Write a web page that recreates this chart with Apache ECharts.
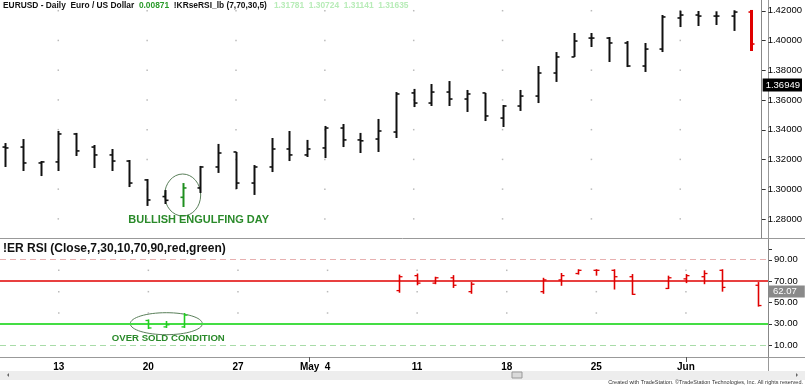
<!DOCTYPE html>
<html>
<head>
<meta charset="utf-8">
<script src="https://cdn.jsdelivr.net/npm/echarts@6/dist/echarts.min.js"></script>
<style>html,body{margin:0;padding:0;background:#fff}#c{width:805px;height:385px}</style>
</head>
<body>
<div id="c"></div>
<script>
// ---- data ----
const days = ['Apr 8','Apr 9','Apr 10','Apr 13','Apr 14','Apr 15','Apr 16','Apr 17','Apr 20','Apr 21','Apr 22','Apr 23','Apr 24',
  'Apr 27','Apr 28','Apr 29','Apr 30','May 1','May 4','May 5','May 6','May 7','May 8','May 11','May 12','May 13','May 14','May 15',
  'May 18','May 19','May 20','May 21','May 22','May 25','May 26','May 27','May 28','May 29','Jun 1','Jun 2','Jun 3','Jun 4','Jun 5'];
const openP  = [1.3283,1.3283,1.3176,1.3183,1.3371,1.3283,1.3230,1.3189,1.3062,1.2950,1.2945,1.3008,1.3149,1.3250,1.3041,1.3149,1.3270,1.3230,1.3277,1.3411,1.3331,1.3337,1.3384,1.3647,1.3579,1.3653,1.3606,1.3647,1.3478,1.3559,1.3626,1.3781,1.3889,1.4016,1.4016,1.3983,1.3828,1.3942,1.4151,1.4171,1.4164,1.4164,1.4191];
const highP  = [1.3310,1.3337,1.3189,1.3391,1.3378,1.3297,1.3270,1.3196,1.3068,1.2994,1.3041,1.3156,1.3304,1.3250,1.3162,1.3344,1.3391,1.3331,1.3425,1.3438,1.3378,1.3472,1.3653,1.3674,1.3707,1.3727,1.3667,1.3647,1.3566,1.3667,1.3828,1.3922,1.4050,1.4050,1.4023,1.3996,1.3983,1.4171,1.4200,1.4198,1.4196,1.4203,1.4205];
const lowP   = [1.3149,1.3122,1.3088,1.3122,1.3223,1.3142,1.3122,1.3014,1.2887,1.2900,1.2880,1.2974,1.3109,1.3001,1.2961,1.3115,1.3189,1.3216,1.3209,1.3283,1.3243,1.3250,1.3344,1.3552,1.3559,1.3559,1.3519,1.3458,1.3418,1.3526,1.3579,1.3721,1.3889,1.3956,1.3855,1.3821,1.3788,1.3922,1.4090,1.4097,1.4104,1.4064,1.3929];
const closeP = [1.3277,1.3176,1.3183,1.3371,1.3257,1.3230,1.3189,1.3041,1.2927,1.2925,1.3008,1.3149,1.3243,1.3041,1.3149,1.3270,1.3230,1.3270,1.3411,1.3331,1.3325,1.3391,1.3640,1.3579,1.3653,1.3606,1.3640,1.3492,1.3559,1.3626,1.3781,1.3889,1.3996,1.4016,1.3983,1.3828,1.3942,1.4158,1.4171,1.4164,1.4164,1.4191,1.3976];
// RSI bars (only shown beyond the 70 / 30 levels)
const rsiIdx   = [8,9,10,22,23,24,25,26,30,31,32,33,34,35,37,38,39,40,42];
const rsiOpen  = [33,27,27,61,75,68,73,60,60,71,77,80,80,74,63,72,74,80,66];
const rsiHigh  = [34,32.5,40,76,77,74,75.5,69,73,77.5,81,81,81,76.5,75,76.5,80,81,69];
const rsiLow   = [25,26,26,59,66,67,63.5,58,58,65.5,76,75,62,57,62.5,68,67,60,46];
const rsiClose = [26,29,38,74,68,73,66,67,71,75,80,80,74,57.5,73,75,77,64,47];
const priceTicks = [1.28,1.30,1.32,1.34,1.36,1.38,1.40,1.42];
const rsiTicks = [10,30,50,70,90];
const rsiGridLevels = [40,60,80];
const xLabelIdx = [3,8,13,17,18,23,28,33,38];
const xLabelText = ['13','20','27','May','4','11','18','25','Jun'];
const mondayIdx = [3,8,13,18,23,28,33,38];
const lastPrice = 1.36949;
const lastRsi = 62.07;
const header = {symbol:'EURUSD - Daily  Euro / US Dollar', change:'0.00871', study:'!KRseRSI_lb (7,70,30,5)', quote:'1.31781  1.30724  1.31141  1.31635'};
const rsiTitle = '!ER RSI (Close,7,30,10,70,90,red,green)';
const HIGHLIGHT = 10;

// ---- chart ----
const FONT = "Arial, 'Liberation Sans', sans-serif";
const X_MIN = -0.28, X_MAX = 42.58;
const priceData = days.map((d,i)=>[i, openP[i], highP[i], lowP[i], closeP[i]]);
const rsiData = rsiIdx.map((d,k)=>[d, rsiOpen[k], rsiHigh[k], rsiLow[k], rsiClose[k]]);
const dotsP = []; mondayIdx.forEach(i=>priceTicks.forEach(p=>dotsP.push([i,p])));
const dotsR = []; mondayIdx.forEach(i=>rsiGridLevels.forEach(p=>dotsR.push([i,p])));

function ohlc(kind){
  return function(params, api){
    const x = api.value(0);
    const pO = api.coord([x, api.value(1)]), pH = api.coord([x, api.value(2)]);
    const pL = api.coord([x, api.value(3)]), pC = api.coord([x, api.value(4)]);
    let color = '#111', w = 2, tw = 1.6, t = 3;
    if (kind === 'price') {
      if (x === HIGHLIGHT) color = '#1f8f1f';
      if (x === days.length - 1) { color = '#e00000'; w = 3; }
    } else {
      color = api.value(2) < 50 ? '#22cc22' : '#e00000'; w = 1.6; tw = 1.3;
    }
    const xx = Math.round(pH[0]) + 0.5;
    return {type:'group', children:[
      {type:'line', shape:{x1:xx, y1:pH[1], x2:xx, y2:pL[1]}, style:{stroke:color, lineWidth:w}},
      {type:'line', shape:{x1:xx - t, y1:pO[1], x2:xx, y2:pO[1]}, style:{stroke:color, lineWidth:tw}},
      {type:'line', shape:{x1:xx, y1:pC[1], x2:xx + t, y2:pC[1]}, style:{stroke:color, lineWidth:tw}}
    ]};
  };
}

const chart = echarts.init(document.getElementById('c'), null, {renderer:'canvas'});
const axisLabelStyle = {fontFamily:FONT, fontSize:9.5, color:'#000', margin:6};
const option = {
  animation:false,
  backgroundColor:'#ffffff',
  title:[
    {left:3, top:2, padding:0, text:'{a|' + header.symbol + '  }{g|' + header.change + '}{a|  ' + header.study + '   }{l|' + header.quote + '}',
      textStyle:{rich:{
        a:{fontFamily:FONT, fontSize:8.4, fontWeight:'bold', color:'#111'},
        g:{fontFamily:FONT, fontSize:8.4, fontWeight:'bold', color:'#2a9a2a'},
        l:{fontFamily:FONT, fontSize:8.4, fontWeight:'bold', color:'#b8ecb8'}}}},
    {left:3, top:243, padding:0, text:rsiTitle, textStyle:{fontFamily:FONT, fontSize:12, fontWeight:'bold', color:'#111'}}
  ],
  grid:[{left:0, top:0, width:768, height:238}, {left:0, top:240, width:768, height:117}],
  xAxis:[
    {type:'value', gridIndex:0, min:X_MIN, max:X_MAX, show:false},
    {type:'value', gridIndex:1, min:X_MIN, max:X_MAX,
      axisLine:{show:true, onZero:false, lineStyle:{color:'#999'}},
      axisTick:{show:true, customValues:[17,38], length:5, lineStyle:{color:'#555'}},
      axisLabel:Object.assign({}, axisLabelStyle, {customValues:xLabelIdx, fontWeight:'bold', fontSize:10, margin:5,
        formatter:v=>xLabelText[xLabelIdx.indexOf(Math.round(v))]}),
      splitLine:{show:false}}
  ],
  yAxis:[
    {type:'value', gridIndex:0, position:'right', min:1.26714, max:1.4272,
      axisLine:{show:true, onZero:false, lineStyle:{color:'#888'}},
      axisTick:{show:false},
      axisLabel:Object.assign({}, axisLabelStyle, {customValues:priceTicks, formatter:v=>v.toFixed(5)}),
      splitLine:{show:false}},
    {type:'value', gridIndex:1, position:'right', min:-1.2, max:108.4,
      axisLine:{show:true, onZero:false, lineStyle:{color:'#888'}},
      axisTick:{show:false},
      axisLabel:Object.assign({}, axisLabelStyle, {customValues:rsiTicks, formatter:v=>v.toFixed(2)}),
      splitLine:{show:false}}
  ],
  series:[
    {type:'scatter', xAxisIndex:0, yAxisIndex:0, data:dotsP, symbol:'rect', symbolSize:1.5, itemStyle:{color:'#aaa'}, silent:true, z:1},
    {type:'scatter', xAxisIndex:1, yAxisIndex:1, data:dotsR, symbol:'rect', symbolSize:1.5, itemStyle:{color:'#aaa'}, silent:true, z:1},
    {type:'custom', name:'EURUSD', xAxisIndex:0, yAxisIndex:0, data:priceData, renderItem:ohlc('price'),
      encode:{x:0, y:[1,2,3,4]}, z:5,
      markLine:{silent:true, symbol:'none', animation:false,
        lineStyle:{color:'rgba(0,0,0,0)', width:0},
        data:[{yAxis:lastPrice, label:{show:true, position:'end', distance:1, formatter:lastPrice.toFixed(5),
          backgroundColor:'#000', color:'#fff', fontFamily:FONT, fontSize:9.5, padding:[2,2,1,3]}}]}},
    {type:'custom', name:'RSI', xAxisIndex:1, yAxisIndex:1, data:rsiData, renderItem:ohlc('rsi'),
      encode:{x:0, y:[1,2,3,4]}, z:5,
      markLine:{silent:true, symbol:'none', animation:false, label:{show:false},
        data:[
          {yAxis:90, lineStyle:{color:'#e8b0b0', type:[6,4], width:1}},
          {yAxis:10, lineStyle:{color:'#a8dca8', type:[6,4], width:1}},
          {yAxis:70, lineStyle:{color:'#e00000', type:'solid', width:1.5}},
          {yAxis:30, lineStyle:{color:'#44dd44', type:'solid', width:2}},
          {yAxis:lastRsi, lineStyle:{color:'rgba(0,0,0,0)', width:0}, label:{show:true, position:'end', distance:1, offset:[0,2], formatter:lastRsi.toFixed(2),
            backgroundColor:'#8a8a8a', color:'#fff', fontFamily:FONT, fontSize:9.5, padding:[1,8,1,4]}}
        ]}}
  ]
};
chart.setOption(option);

const c1 = chart.convertToPixel({gridIndex:0}, [HIGHLIGHT, (highP[HIGHLIGHT] + lowP[HIGHLIGHT]) / 2]);
const c2 = chart.convertToPixel({gridIndex:1}, [9, 30]);
const tickMarks = [];
priceTicks.forEach(v=>{ const p = chart.convertToPixel({gridIndex:0}, [X_MAX, v]);
  tickMarks.push({type:'line', shape:{x1:p[0], y1:Math.round(p[1])+0.5, x2:p[0]+4, y2:Math.round(p[1])+0.5}, style:{stroke:'#333', lineWidth:1}, silent:true}); });
rsiTicks.concat([100]).forEach(v=>{ const p = chart.convertToPixel({gridIndex:1}, [X_MAX, v]);
  tickMarks.push({type:'line', shape:{x1:p[0], y1:Math.round(p[1])+0.5, x2:p[0]+4, y2:Math.round(p[1])+0.5}, style:{stroke:'#333', lineWidth:1}, silent:true}); });
chart.setOption({graphic:tickMarks.concat([
  {type:'line', shape:{x1:768.5, y1:0, x2:768.5, y2:371}, style:{stroke:'#999', lineWidth:1}, silent:true},
  {type:'line', shape:{x1:0, y1:238.5, x2:805, y2:238.5}, style:{stroke:'#999', lineWidth:1}, silent:true},
  {type:'line', shape:{x1:0, y1:357.5, x2:805, y2:357.5}, style:{stroke:'#999', lineWidth:1}, silent:true},
  {type:'ellipse', shape:{cx:c1[0], cy:c1[1], rx:18, ry:21}, style:{fill:null, stroke:'#5a7f5a', lineWidth:1}, silent:true},
  {type:'ellipse', shape:{cx:c2[0], cy:c2[1], rx:36, ry:11}, style:{fill:null, stroke:'#5a7f5a', lineWidth:1}, silent:true},
  {type:'text', x:c1[0] + 16, y:220, style:{text:'BULLISH ENGULFING DAY', font:"bold 11px " + FONT, fill:'#2a8a2a', align:'center', verticalAlign:'middle'}, silent:true},
  {type:'text', x:c2[0] + 2, y:338, style:{text:'OVER SOLD CONDITION', font:"bold 9.6px " + FONT, fill:'#2a8a2a', align:'center', verticalAlign:'middle'}, silent:true},
  {type:'rect', shape:{x:0, y:371, width:805, height:9}, style:{fill:'#ededed'}, silent:true},
  {type:'rect', shape:{x:512, y:372, width:10, height:6}, style:{fill:'#dadada', stroke:'#999', lineWidth:1}, silent:true},
  {type:'polygon', shape:{points:[[9,373],[9,377],[7,375]]}, style:{fill:'#666'}, silent:true},
  {type:'polygon', shape:{points:[[796,373],[796,377],[798,375]]}, style:{fill:'#666'}, silent:true},
  {type:'text', right:2, y:379, style:{text:'Created with TradeStation. \u00a9TradeStation Technologies, Inc. All rights reserved.', font:"5.5px Arial, sans-serif", fill:'#333', align:'right'}, silent:true}
])});
</script>
</body>
</html>
